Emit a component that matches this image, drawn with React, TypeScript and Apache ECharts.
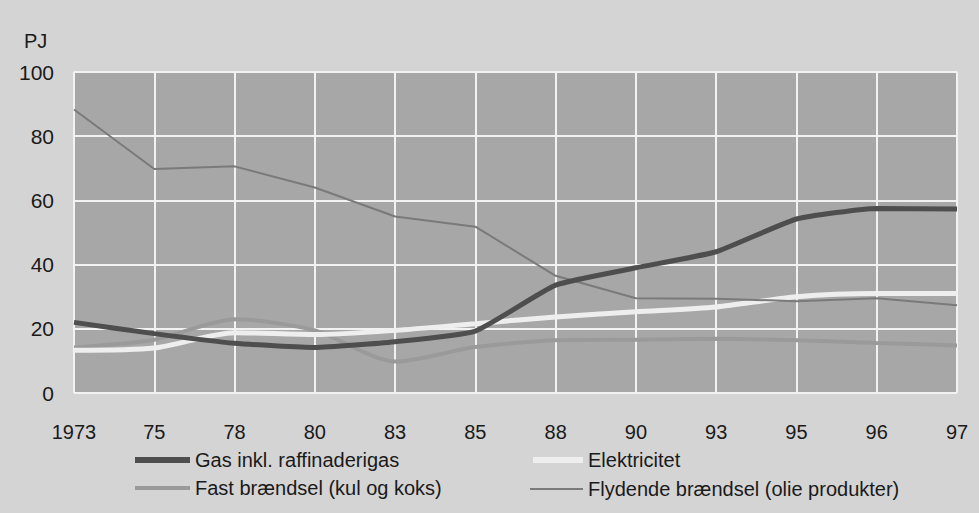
import React, { useEffect, useRef } from "react";
import * as echarts from "echarts";

const categories = ["1973", "75", "78", "80", "83", "85", "88", "90", "93", "95", "96", "97"];
const gas = [22, 18.5, 15.5, 14.2, 16, 19.3, 33.6, 39, 44, 54.2, 57.5, 57.3];
const elektricitet = [13.3, 14, 18.8, 18.2, 19.5, 21.6, 23.7, 25.3, 26.8, 30, 31, 31];
const fast = [14.2, 16.6, 23, 19.5, 9.8, 14.3, 16.4, 16.6, 16.9, 16.4, 15.6, 14.8];
const flydende = [88.3, 69.8, 70.6, 64, 55, 51.8, 36.5, 29.5, 29.4, 28.6, 29.5, 27.3];
const yTicks = { min: 0, max: 100, interval: 20 };

const names = {
  gas: "Gas inkl. raffinaderigas",
  el: "Elektricitet",
  fast: "Fast brændsel (kul og koks)",
  fly: "Flydende brændsel (olie produkter)",
};

const FONT = "'Liberation Sans', Arial, sans-serif";
const TEXT = "#1a1a1a";

export default function App() {
  const ref = useRef<HTMLDivElement>(null);
  useEffect(() => {
    if (!ref.current) return;
    const chart = echarts.init(ref.current, null, { renderer: "svg" });
    const legend = (name: string, left: number, top: number, w: number, h: number, color: string) => ({
      left,
      top,
      padding: 0,
      itemWidth: w,
      itemHeight: h,
      itemGap: 5,
      textStyle: { fontSize: 20, fontFamily: FONT, color: TEXT, padding: [2, 0, 0, 0] },
      data: [{ name, icon: "rect", itemStyle: { color, borderWidth: 0 } }],
      selectedMode: false,
    });
    chart.setOption({
      animation: false,
      backgroundColor: "#d4d4d4",
      textStyle: { fontFamily: FONT },
      grid: {
        left: 74,
        right: 22,
        top: 72,
        bottom: 120,
        show: true,
        backgroundColor: "#a7a7a7",
        borderWidth: 0,
      },
      xAxis: {
        type: "category",
        data: categories,
        boundaryGap: false,
        axisLine: { show: false },
        axisTick: { show: false },
        axisLabel: { fontSize: 20, fontFamily: FONT, color: TEXT, margin: 29 },
        splitLine: { show: true, lineStyle: { color: "#f2f2f2", width: 2 } },
      },
      yAxis: {
        type: "value",
        min: yTicks.min,
        max: yTicks.max,
        interval: yTicks.interval,
        axisLine: { show: false },
        axisTick: { show: false },
        axisLabel: { fontSize: 21, fontFamily: FONT, color: TEXT, margin: 20 },
        splitLine: { show: true, lineStyle: { color: "#f2f2f2", width: 2 } },
      },
      legend: [
        legend(names.gas, 135, 450, 55, 6, "#4e4e4e"),
        legend(names.el, 533, 450, 50, 6, "#eeeeee"),
        legend(names.fast, 135, 478, 55, 4, "#9a9a9a"),
        legend(names.fly, 530, 479, 53, 2, "#7a7a7a"),
      ],
      graphic: [
        {
          type: "text",
          left: 24,
          top: 31,
          style: { text: "PJ", font: `20px ${FONT}`, fill: TEXT },
        },
      ],
      series: [
        {
          name: names.fast,
          type: "line",
          data: fast,
          symbol: "none",
          smooth: 0.25,
          lineStyle: { color: "#9a9a9a", width: 4 },
          itemStyle: { color: "#9a9a9a" },
        },
        {
          name: names.el,
          type: "line",
          data: elektricitet,
          symbol: "none",
          smooth: 0.25,
          lineStyle: { color: "#eeeeee", width: 5 },
          itemStyle: { color: "#eeeeee" },
        },
        {
          name: names.fly,
          type: "line",
          data: flydende,
          symbol: "none",
          lineStyle: { color: "#7a7a7a", width: 2 },
          itemStyle: { color: "#7a7a7a" },
        },
        {
          name: names.gas,
          type: "line",
          data: gas,
          symbol: "none",
          smooth: 0.15,
          lineStyle: { color: "#4e4e4e", width: 5 },
          itemStyle: { color: "#4e4e4e" },
        },
      ],
    });
    return () => chart.dispose();
  }, []);
  return (
    <div
      ref={ref}
      style={{ position: "fixed", left: 0, top: 0, width: 979, height: 513 }}
    />
  );
}
